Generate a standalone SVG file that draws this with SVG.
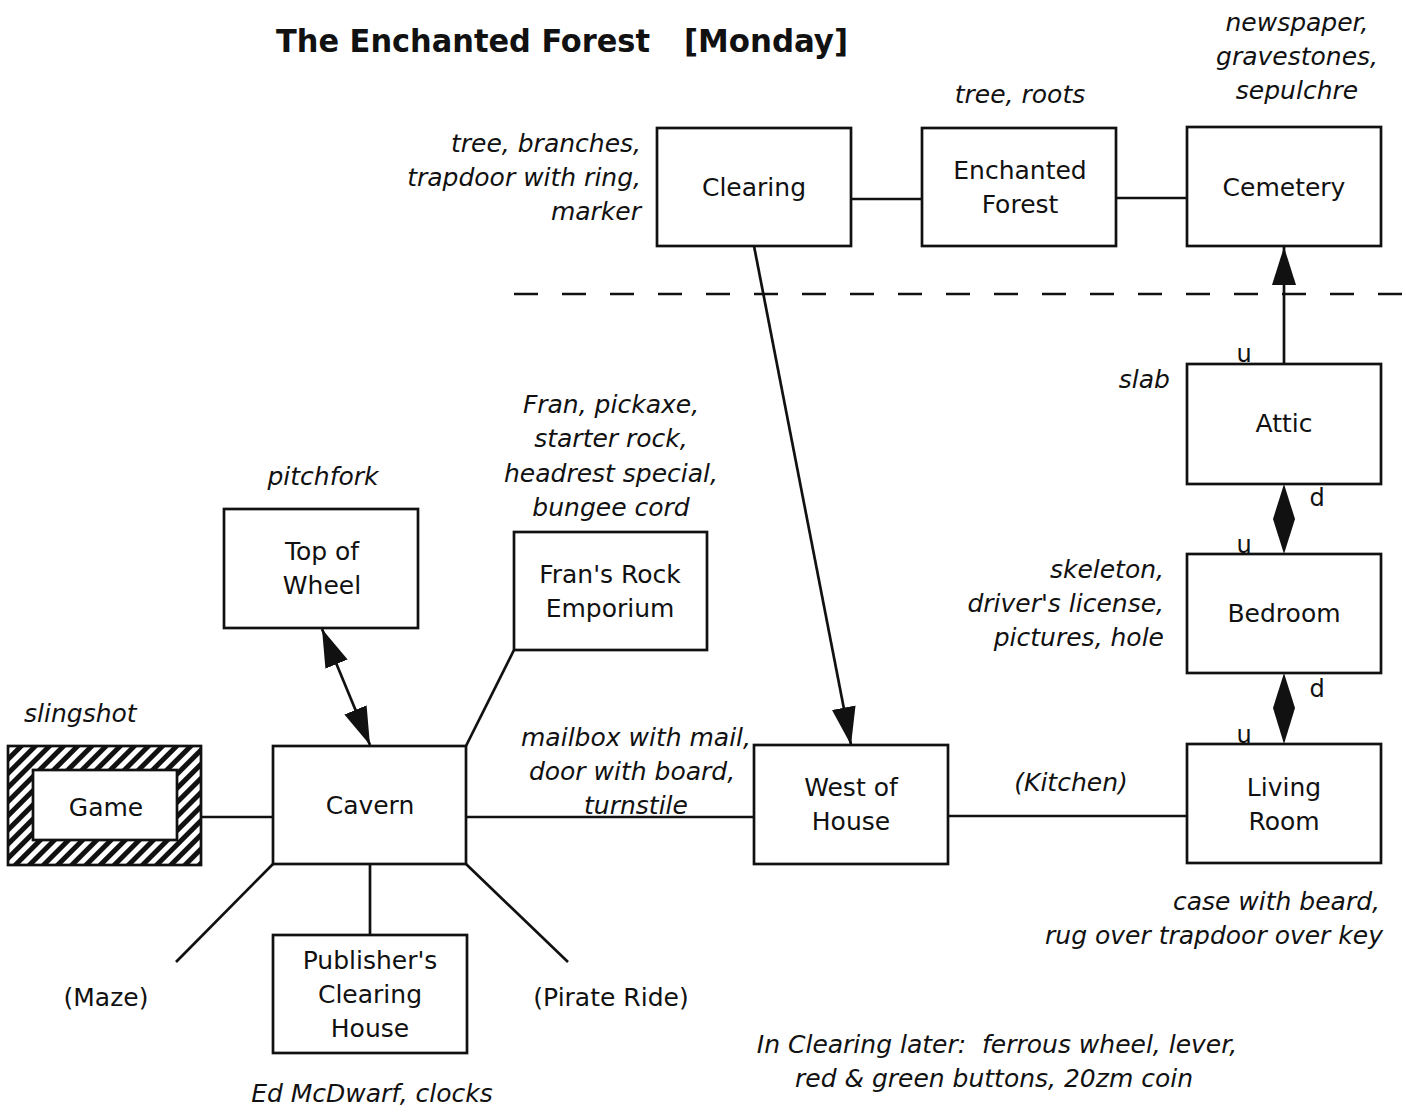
<svg xmlns="http://www.w3.org/2000/svg" width="1406" height="1112" viewBox="0 0 1406 1112">
<style>
.box{fill:#fff;stroke:#111;stroke-width:2.7}
.t{font-family:"DejaVu Sans",Verdana,sans-serif;font-size:25px;fill:#111;text-anchor:middle}
.i{font-family:"DejaVu Sans",Verdana,sans-serif;font-size:25px;font-style:italic;fill:#111}
.r{text-anchor:end}
.m{text-anchor:middle}
.s{font-family:"DejaVu Sans",Verdana,sans-serif;font-size:24px;fill:#111;text-anchor:middle}
.ln{stroke:#111;stroke-width:2.7;fill:none}
.title{font-family:"DejaVu Sans Condensed","DejaVu Sans",sans-serif;font-weight:bold;font-size:32px;fill:#111}
</style>
<defs>
<marker id="ah" markerUnits="userSpaceOnUse" markerWidth="40" markerHeight="24" refX="38" refY="12" orient="auto-start-reverse"><path d="M0,0 L38,12 L0,24 z" fill="#111"/></marker>
<pattern id="hatch" width="10" height="10" patternUnits="userSpaceOnUse" patternTransform="rotate(45)"><rect width="10" height="10" fill="#fff"/><rect width="5" height="10" fill="#111"/></pattern>
</defs>
<rect width="1406" height="1112" fill="#fff"/>
<text class="title" x="276" y="52" textLength="374" lengthAdjust="spacingAndGlyphs">The Enchanted Forest</text>
<text class="title" x="684" y="52" textLength="164" lengthAdjust="spacingAndGlyphs">[Monday]</text>
<line class="ln" x1="514" y1="294" x2="1406" y2="294" stroke-dasharray="24 24"/>
<g id="connectors">
<line class="ln" x1="851" y1="199" x2="922" y2="199"/>
<line class="ln" x1="1116" y1="198" x2="1187" y2="198"/>
<line class="ln" x1="1284" y1="364" x2="1284" y2="247" marker-end="url(#ah)"/>
<polygon points="1284,484 1295,519 1284,554 1273,519" fill="#111"/>
<polygon points="1284,673 1295,708 1284,744 1273,708" fill="#111"/>
<line class="ln" x1="754" y1="246" x2="851" y2="745" marker-end="url(#ah)"/>
<line class="ln" x1="322" y1="629" x2="370" y2="745" marker-start="url(#ah)" marker-end="url(#ah)"/>
<line class="ln" x1="201" y1="817" x2="273" y2="817"/>
<line class="ln" x1="466" y1="817" x2="754" y2="817"/>
<line class="ln" x1="948" y1="816" x2="1187" y2="816"/>
<line class="ln" x1="466" y1="746" x2="514" y2="650"/>
<line class="ln" x1="370" y1="864" x2="370" y2="935"/>
<line class="ln" x1="273" y1="864" x2="176" y2="962"/>
<line class="ln" x1="466" y1="864" x2="568" y2="962"/>
</g>
<g id="clearing"><rect class="box" x="657" y="128" width="194" height="118"/><text class="t" x="754" y="196">Clearing</text></g>
<g id="enchanted-forest"><rect class="box" x="922" y="128" width="194" height="118"/><text class="t" x="1020" y="179">Enchanted</text><text class="t" x="1020" y="213">Forest</text></g>
<g id="cemetery"><rect class="box" x="1187" y="127" width="194" height="119"/><text class="t" x="1284" y="196">Cemetery</text></g>
<g id="attic"><rect class="box" x="1187" y="364" width="194" height="120"/><text class="t" x="1284" y="432">Attic</text></g>
<g id="bedroom"><rect class="box" x="1187" y="554" width="194" height="119"/><text class="t" x="1284" y="622">Bedroom</text></g>
<g id="living-room"><rect class="box" x="1187" y="744" width="194" height="119"/><text class="t" x="1284" y="796">Living</text><text class="t" x="1284" y="830">Room</text></g>
<g id="west-of-house"><rect class="box" x="754" y="745" width="194" height="119"/><text class="t" x="851" y="796">West of</text><text class="t" x="851" y="830">House</text></g>
<g id="cavern"><rect class="box" x="273" y="746" width="193" height="118"/><text class="t" x="370" y="814">Cavern</text></g>
<g id="publishers"><rect class="box" x="273" y="935" width="194" height="118"/><text class="t" x="370" y="969">Publisher's</text><text class="t" x="370" y="1003">Clearing</text><text class="t" x="370" y="1037">House</text></g>
<g id="top-of-wheel"><rect class="box" x="224" y="509" width="194" height="119"/><text class="t" x="322" y="560">Top of</text><text class="t" x="322" y="594">Wheel</text></g>
<g id="frans"><rect class="box" x="514" y="532" width="193" height="118"/><text class="t" x="610" y="583">Fran's Rock</text><text class="t" x="610" y="617">Emporium</text></g>
<g id="game"><rect x="8" y="746" width="193" height="119" fill="url(#hatch)" stroke="#111" stroke-width="2.7"/><rect class="box" x="33" y="770" width="144" height="70"/><text class="t" x="106" y="816">Game</text></g>
<g id="labels">
<text class="i r" x="641" y="152">tree, branches,</text>
<text class="i r" x="641" y="186">trapdoor with ring,</text>
<text class="i r" x="641" y="220">marker</text>
<text class="i m" x="1020" y="103">tree, roots</text>
<text class="i m" x="1297" y="31">newspaper,</text>
<text class="i m" x="1297" y="65">gravestones,</text>
<text class="i m" x="1297" y="99">sepulchre</text>
<text class="i r" x="1170" y="388">slab</text>
<text class="i r" x="1164" y="578">skeleton,</text>
<text class="i r" x="1164" y="612">driver's license,</text>
<text class="i r" x="1164" y="646">pictures, hole</text>
<text class="s" x="1244" y="362">u</text>
<text class="s" x="1317" y="506">d</text>
<text class="s" x="1244" y="553">u</text>
<text class="s" x="1317" y="697">d</text>
<text class="s" x="1244" y="743">u</text>
<text class="i r" x="1380" y="910">case with beard,</text>
<text class="i r" x="1383" y="944">rug over trapdoor over key</text>
<text class="i m" x="1071" y="791">(Kitchen)</text>
<text class="i m" x="636" y="746">mailbox with mail,</text>
<text class="i m" x="632" y="780">door with board,</text>
<text class="i m" x="636" y="814">turnstile</text>
<text class="i m" x="611" y="413">Fran, pickaxe,</text>
<text class="i m" x="611" y="447">starter rock,</text>
<text class="i m" x="611" y="482">headrest special,</text>
<text class="i m" x="611" y="516">bungee cord</text>
<text class="i m" x="323" y="485">pitchfork</text>
<text class="i" x="24" y="722">slingshot</text>
<text class="t" x="106" y="1006">(Maze)</text>
<text class="t" x="611" y="1006">(Pirate Ride)</text>
<text class="i m" x="372" y="1102">Ed McDwarf, clocks</text>
<text class="i m" x="997" y="1053" style="white-space:pre">In Clearing later:  ferrous wheel, lever,</text>
<text class="i m" x="994" y="1087">red &amp; green buttons, 20zm coin</text>
</g>
</svg>
